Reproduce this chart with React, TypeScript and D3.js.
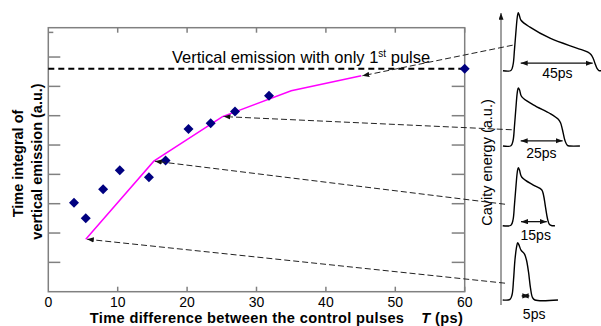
import React from "react";
import * as d3 from "d3";

// ---------- data ----------
const xTicks = [0, 10, 20, 30, 40, 50, 60];
const yTicks = [1, 2, 3, 4, 5, 6, 7, 8];
const rightTicks = [1, 2, 3, 4, 5, 6, 7];
const minorTopTick = 8.84;

const measuredT = [3.7, 5.4, 7.9, 10.3, 14.5, 16.9, 20.2, 23.4, 26.9, 31.8, 60];
const measuredI = [3.03, 2.5, 3.49, 4.14, 3.9, 4.47, 5.55, 5.74, 6.14, 6.68, 7.6];

const simT = [5.4, 15.2, 25.1, 35, 45.1];
const simI = [1.79, 4.45, 5.97, 6.85, 7.36];

const singlePulseLevel = 7.6;

// pulse shapes: [time (ps), normalized energy]
const pulse45: [number, number][] = [
  [-11.1, 0], [-6.1, 0.003], [-4.8, 0.1], [-3.9, 0.36], [-2.9, 0.7], [-2.1, 0.93], [-1.5, 1.0],
  [-0.9, 0.96], [0.2, 0.87], [5.8, 0.75], [18.3, 0.56], [35, 0.39], [42, 0.32], [43.9, 0.28],
  [45.2, 0.22], [46.4, 0.13], [47.7, 0.04], [48.9, 0.003], [50.2, 0],
];
const pulse25: [number, number][] = [
  [-11.1, 0], [-6.1, 0.005], [-4.8, 0.09], [-3.9, 0.34], [-2.9, 0.69], [-2.1, 0.93], [-1.5, 1.0],
  [-0.75, 0.97], [0.6, 0.85], [7.9, 0.71], [18.3, 0.56], [23.5, 0.46], [24.9, 0.4], [26.1, 0.28],
  [27.7, 0.09], [29.2, 0.01], [30.8, 0], [37, 0],
];
const pulse15: [number, number][] = [
  [-11.25, 0], [-6.1, 0.007], [-4.8, 0.1], [-3.9, 0.36], [-2.9, 0.7], [-2.1, 0.93], [-1.5, 1.0],
  [-0.75, 0.96], [0.6, 0.84], [7.9, 0.7], [13.1, 0.62], [14.25, 0.53], [15.5, 0.32], [16.75, 0.12],
  [18, 0.02], [19.6, 0], [21.4, 0],
];
const pulse5: [number, number][] = [
  [-11.25, 0], [-6.7, 0.01], [-5.4, 0.09], [-4.5, 0.34], [-3.6, 0.69], [-2.6, 0.91], [-1.9, 0.99],
  [-1.1, 0.95], [0.2, 0.86], [2.4, 0.79], [3.6, 0.69], [4.9, 0.48], [6.1, 0.21], [7.4, 0.04],
  [8.9, 0], [23.3, 0],
];
const pulses = [pulse45, pulse25, pulse15, pulse5];
const pulseLabels = ["45ps", "25ps", "15ps", "5ps"];
const widthArrowStart = [0, 0, 0.2, 0.6];
const widthArrowEnd = [45, 26.2, 16.3, 5.4];
const widthArrowLevel = [0.13, 0.09, 0.07, 0.07];
const labelT = [22.9, 12.9, 9.4, 8.4];
const labelLevel = [-0.13, -0.21, -0.25, -0.32];
// connector arrows: start on pulse (t, e) -> simulated vertex index
const connStartT = [-5, -5.6, -9.8, -9.8];
const connStartE = [0.44, 0.28, 0.37, 0.29];
const connTarget = [4, 2, 1, 0];

// ---------- layout ----------
const W = 601;
const H = 326;
const plot = { left: 48.3, right: 464.7, top: 27.7, bottom: 291.7 };
const pulseBase = [70.7, 146, 225.7, 300];
const pulseHeight = 58;
const font = "'Liberation Sans', Arial, Helvetica, sans-serif";

export default function App() {
  const x = d3.scaleLinear().domain([0, 60]).range([plot.left, plot.right]);
  const y = d3.scaleLinear().domain([0, 9]).range([plot.bottom, plot.top]);
  const tScale = d3.scaleLinear().domain([0, 45]).range([520.7, 592.7]);
  const eScales = pulseBase.map((b) => d3.scaleLinear().domain([0, 1]).range([b, b - pulseHeight]));

  const simLine = d3
    .line<number>()
    .x((_, i) => x(simT[i]))
    .y((d) => y(d));

  const diamond = d3.symbol().type(d3.symbolSquare).size(50)() as string;

  const axisColor = "#808080";

  return (
    <svg
      width={W}
      height={H}
      viewBox={`0 0 ${W} ${H}`}
      style={{ position: "absolute", left: 0, top: 0, background: "#fff" }}
      fontFamily={font}
    >
      <defs>
        <marker id="ah" viewBox="0 0 8 6" refX="8" refY="3" markerWidth="7" markerHeight="5.5" markerUnits="userSpaceOnUse" orient="auto">
          <path d="M0,0 L8,3 L0,6 z" fill="#111" />
        </marker>
        <marker id="dh" viewBox="0 0 8 6" refX="8" refY="3" markerWidth="7" markerHeight="5.5" markerUnits="userSpaceOnUse" orient="auto-start-reverse">
          <path d="M0,0 L8,3 L0,6 z" fill="#111" />
        </marker>
        <marker id="up" viewBox="0 0 8 6" refX="8" refY="3" markerWidth="7" markerHeight="5" markerUnits="userSpaceOnUse" orient="auto">
          <path d="M0,0 L8,3 L0,6 z" fill="#111" />
        </marker>
      </defs>

      {/* frame */}
      <rect x={plot.left} y={plot.top} width={plot.right - plot.left} height={plot.bottom - plot.top} fill="none" stroke={axisColor} strokeWidth={1.5} />
      {yTicks.map((v) => (
        <line key={"yl" + v} x1={plot.left} x2={plot.left + 12} y1={y(v)} y2={y(v)} stroke={axisColor} strokeWidth={1.5} />
      ))}
      <line x1={plot.left} x2={plot.left + 5} y1={y(minorTopTick)} y2={y(minorTopTick)} stroke={axisColor} strokeWidth={1.5} />
      {rightTicks.map((v) => (
        <line key={"yr" + v} x1={plot.right - 13} x2={plot.right} y1={y(v)} y2={y(v)} stroke={axisColor} strokeWidth={1.5} />
      ))}
      {xTicks.filter((v) => v > 0).map((v) => (
        <g key={"xt" + v}>
          <line x1={x(v)} x2={x(v)} y1={plot.bottom} y2={plot.bottom - 5} stroke={axisColor} strokeWidth={1.5} />
          <line x1={x(v)} x2={x(v)} y1={plot.top} y2={plot.top + 5} stroke={axisColor} strokeWidth={1.5} />
        </g>
      ))}
      {xTicks.map((v) => (
        <text key={"xl" + v} x={x(v)} y={306.8} textAnchor="middle" fontSize={14} fill="#000">
          {v}
        </text>
      ))}

      {/* single-pulse level */}
      <line
        x1={plot.left}
        x2={plot.right}
        y1={y(singlePulseLevel)}
        y2={y(singlePulseLevel)}
        stroke="#000"
        strokeWidth={2.2}
        strokeDasharray="6,4"
      />
      <text x={172} y={63} fontSize={16.5} fill="#000">
        Vertical emission with only 1
        <tspan fontSize={10} dy={-6}>st</tspan>
        <tspan dy={6}> pulse</tspan>
      </text>

      {/* simulated line */}
      <path d={simLine(simI) || ""} fill="none" stroke="#ff00ff" strokeWidth={1.5} />

      {/* measured points */}
      {measuredT.map((t, i) => (
        <path key={"m" + i} d={diamond} transform={`translate(${x(t)},${y(measuredI[i])}) rotate(45)`} fill="#000080" />
      ))}

      {/* right panel axis */}
      <line x1={501} x2={501} y1={305} y2={13} stroke={axisColor} strokeWidth={1.5} markerEnd="url(#up)" />
      <text transform="translate(492.2,162.5) rotate(-90)" textAnchor="middle" fontSize={14.5} fill="#000">
        Cavity energy (a.u.)
      </text>

      {/* pulses */}
      {pulses.map((p, k) => {
        const e = eScales[k];
        const line = d3
          .line<[number, number]>()
          .x((d) => tScale(d[0]))
          .y((d) => e(d[1]))
          .curve(d3.curveCatmullRom.alpha(0.5));
        return (
          <g key={"p" + k}>
            <path d={line(p) || ""} fill="none" stroke="#000" strokeWidth={1.4} />
            <line
              x1={tScale(widthArrowStart[k])}
              x2={tScale(widthArrowEnd[k])}
              y1={e(widthArrowLevel[k])}
              y2={e(widthArrowLevel[k])}
              stroke="#111"
              strokeWidth={1.3}
              markerStart="url(#dh)"
              markerEnd="url(#dh)"
            />
            <text x={tScale(labelT[k])} y={e(labelLevel[k])} textAnchor="middle" fontSize={14} fill="#000">
              {pulseLabels[k]}
            </text>
          </g>
        );
      })}

      {/* connectors */}
      {connTarget.map((ti, k) => (
        <line
          key={"c" + k}
          x1={tScale(connStartT[k])}
          y1={eScales[k](connStartE[k])}
          x2={x(simT[ti]) + 1}
          y2={y(simI[ti])}
          stroke="#222"
          strokeWidth={1}
          strokeDasharray="6,3"
          markerEnd="url(#ah)"
        />
      ))}

      {/* axis titles */}
      <text transform="translate(22.5,163.5) rotate(-90)" textAnchor="middle" fontSize={14.5} fontWeight="bold" fill="#000">
        Time integral of
      </text>
      <text transform="translate(41.5,161.5) rotate(-90)" textAnchor="middle" fontSize={14.5} fontWeight="bold" fill="#000">
        vertical emission (a.u.)
      </text>
      <text x={276.5} y={322.6} textAnchor="middle" fontSize={14.6} fontWeight="bold" letterSpacing={0.35} fill="#000">
        Time difference between the control pulses
        <tspan dx={17} fontStyle="italic">T</tspan>
        <tspan> (ps)</tspan>
      </text>
    </svg>
  );
}
